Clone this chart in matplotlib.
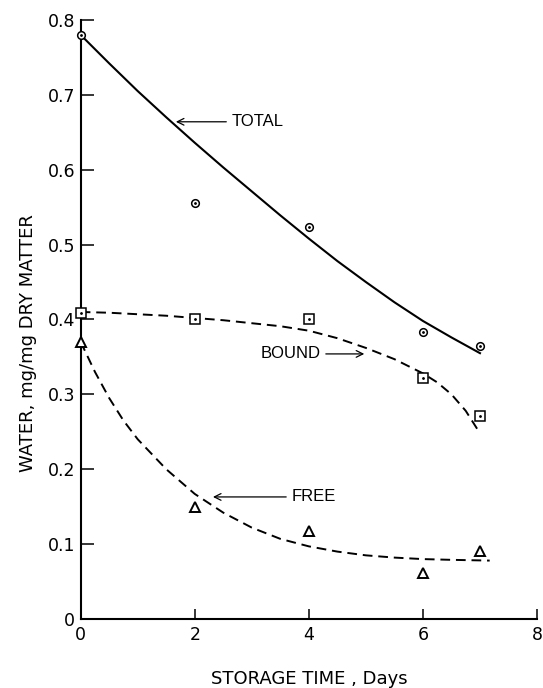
import matplotlib
matplotlib.use("Agg")
import matplotlib.pyplot as plt

# measured points
days = [0, 2, 4, 6, 7]
total_pts = [0.78, 0.555, 0.523, 0.383, 0.365]
bound_pts = [0.408, 0.40, 0.40, 0.322, 0.271]
free_pts = [0.37, 0.15, 0.117, 0.061, 0.091]

# fitted curves
total_x = [0, 0.5, 1, 1.5, 2, 2.5, 3, 3.5, 4, 4.5, 5, 5.5, 6, 6.5, 7]
total_y = [0.78, 0.742, 0.705, 0.670, 0.636, 0.603, 0.571, 0.539, 0.508,
           0.478, 0.450, 0.423, 0.398, 0.376, 0.355]

bound_x = [0, 0.5, 1, 1.5, 2, 2.5, 3, 3.5, 4, 4.5, 5, 5.5, 6, 6.25, 6.5, 6.75, 7]
bound_y = [0.410, 0.409, 0.407, 0.405, 0.402, 0.399, 0.395, 0.391, 0.385,
           0.375, 0.362, 0.347, 0.328, 0.316, 0.300, 0.278, 0.248]

free_x = [0, 0.25, 0.5, 0.75, 1, 1.5, 2, 2.5, 3, 3.5, 4, 4.5, 5, 5.5, 6, 6.5, 7.17]
free_y = [0.37, 0.330, 0.295, 0.265, 0.240, 0.200, 0.167, 0.142, 0.122,
          0.107, 0.097, 0.090, 0.085, 0.082, 0.080, 0.079, 0.078]

x_ticks = [0, 2, 4, 6, 8]
y_ticks = [0, 0.1, 0.2, 0.3, 0.4, 0.5, 0.6, 0.7, 0.8]
y_ticklabels = ["0", "0.1", "0.2", "0.3", "0.4", "0.5", "0.6", "0.7", "0.8"]

plt.rcParams["font.family"] = ["Liberation Sans", "DejaVu Sans"]

fig = plt.figure(figsize=(5.43, 6.88), dpi=100)
ax = fig.add_axes([0.1486, 0.1003, 0.8404, 0.8707])

dash = (0, (5, 3))
ax.plot(total_x, total_y, color="black", lw=1.5)
ax.plot(bound_x, bound_y, color="black", lw=1.4, linestyle=dash)
ax.plot(free_x, free_y, color="black", lw=1.4, linestyle=dash)

mk = dict(color="black", mfc="white", linestyle="none", clip_on=False, zorder=3)
ax.plot(days, total_pts, marker="o", ms=5.5, mew=1.1, **mk)
ax.plot(days, bound_pts, marker="s", ms=6.5, mew=1.1, **mk)
ax.plot(days, free_pts, marker="^", ms=6.5, mew=1.4, **mk)
for pts in (total_pts, bound_pts):
    ax.plot(days, pts, marker=".", ms=2, color="black", linestyle="none",
            clip_on=False, zorder=4)

arrow = dict(arrowstyle="->", color="black", lw=0.9)
ax.annotate("TOTAL", xy=(1.62, 0.664), xytext=(2.65, 0.664), fontsize=12,
            va="center", ha="left", arrowprops=arrow)
ax.annotate("BOUND", xy=(5.02, 0.354), xytext=(4.2, 0.354), fontsize=12,
            va="center", ha="right", arrowprops=arrow)
ax.annotate("FREE", xy=(2.27, 0.163), xytext=(3.7, 0.163), fontsize=12,
            va="center", ha="left", arrowprops=arrow)

ax.set_xlim(0, 8)
ax.set_ylim(0, 0.8)
ax.set_xticks(x_ticks)
ax.set_yticks(y_ticks)
ax.set_yticklabels(y_ticklabels)
ax.tick_params(direction="in", length=9, width=1.1, labelsize=12.5, pad=4)
ax.tick_params(axis="x", length=7, pad=5)
for lab in ax.get_xticklabels() + ax.get_yticklabels():
    lab.set_family("DejaVu Sans")
for s in ("top", "right"):
    ax.spines[s].set_visible(False)
for s in ("left", "bottom"):
    ax.spines[s].set_linewidth(1.5)

ax.set_xlabel("STORAGE TIME , Days", fontsize=13, family="DejaVu Sans",
              va="center")
ax.set_ylabel("WATER, mg/mg DRY MATTER", fontsize=13, family="DejaVu Sans",
              va="center")
ax.xaxis.set_label_coords(0.502, -0.1002)
ax.yaxis.set_label_coords(-0.115, 0.461)

fig.savefig("out.png", dpi=100)
